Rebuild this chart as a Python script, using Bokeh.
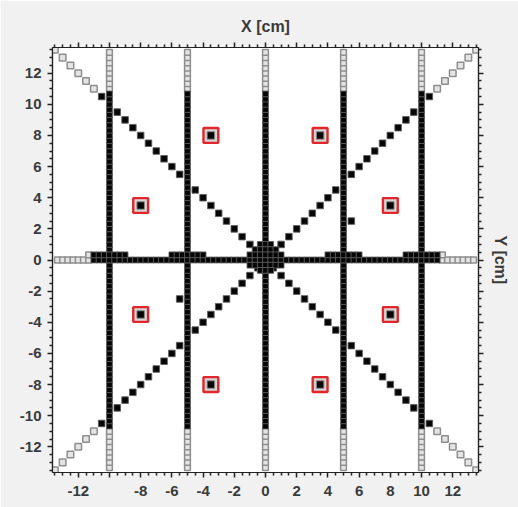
import numpy as np
from bokeh.plotting import figure
from bokeh.models import FixedTicker, LinearAxis, ColumnDataSource
from bokeh.embed import file_html
from bokeh.resources import INLINE

# ---------------- data (cm) ----------------
cell_pitch = 1.0 / 3.0          # detector cell pitch in cm

tick_values = [-12, -10, -8, -6, -4, -2, 0, 2, 4, 6, 8, 10, 12]
left_tick_labels = ["-12", "-10", "-8", "-6", "-4", "-2", "0", "2", "4", "6", "8", "10", "12"]
bottom_tick_labels = ["-12", "", "-8", "-6", "-4", "-2", "0", "2", "4", "6", "8", "10", "12"]
minor_tick_values = [-13.5, -13, -12.5, -11.5, -11, -10.5, -9.5, -9, -8.5, -7.5, -7, -6.5,
                     -5.5, -5, -4.5, -3.5, -3, -2.5, -1.5, -1, -0.5, 0.5, 1, 1.5, 2.5, 3,
                     3.5, 4.5, 5, 5.5, 6.5, 7, 7.5, 8.5, 9, 9.5, 10.5, 11, 11.5, 12.5, 13, 13.5]

# grid segments of cells (indices in cell pitch units)
vertical_line_k = [-30, -15, 0, 15, 30]
vertical_segments = [(-40, -33, "gray"), (-32, 32, "black"), (33, 40, "gray")]
horizontal_segments = [
    (0, -40, -34, "gray"), (0, -33, 33, "black"), (0, 34, 40, "gray"),
    (1, -34, -34, "gray"), (1, -33, -27, "black"), (1, -18, -12, "black"),
    (1, 12, 18, "black"), (1, 27, 33, "black"), (1, 34, 34, "gray"),
    (3, -1, 1, "black"), (2, -2, 2, "black"), (1, -3, 3, "black"),
    (-1, -3, 3, "black"), (-2, -1, 1, "black"),
]

# diagonal cells (distance d along both axes, y = +-x)
diag_black_d = [0.5, 1.0, 1.5, 2.0, 2.5, 3.0, 3.5, 4.0, 4.5, 5.5, 6.0, 6.5, 7.0,
                7.5, 8.0, 8.5, 9.0, 9.5, 10.5]
diag_gray_d = [11.0, 11.5, 12.0, 12.5, 13.0, 13.5]

# isolated cells
stray_x = [-5.5, 5.5]
stray_y = [-2.5, 2.5]

# red marked positions
red_x = [-3.5, 3.5, -8.0, 8.0, -8.0, 8.0, -3.5, 3.5]
red_y = [8.0, 8.0, 3.5, 3.5, -3.5, -3.5, -8.0, -8.0]

# ---------------- build cell tables ----------------
grid = {"black": ([], []), "gray": ([], [])}
diag = {"black": ([], []), "gray": ([], [])}
for kx in vertical_line_k:
    for k0, k1, st in vertical_segments:
        for ky in range(k0, k1 + 1):
            grid[st][0].append(kx * cell_pitch)
            grid[st][1].append(ky * cell_pitch)
for ky, k0, k1, st in horizontal_segments:
    for kx in range(k0, k1 + 1):
        grid[st][0].append(kx * cell_pitch)
        grid[st][1].append(ky * cell_pitch)
for st, dl in (("black", diag_black_d), ("gray", diag_gray_d)):
    for d in dl:
        for sx, sy in ((1, 1), (1, -1), (-1, 1), (-1, -1)):
            diag[st][0].append(sx * d)
            diag[st][1].append(sy * d)
diag["black"][0].extend(stray_x)
diag["black"][1].extend(stray_y)

# ---------------- figure ----------------
FONT = "Liberation Sans"
p = figure(width=518, height=507, x_range=(-13.65, 13.65), y_range=(-13.65, 13.65),
           output_backend="svg", toolbar_location=None,
           min_border_left=52, min_border_right=40, min_border_top=47, min_border_bottom=35)
p.background_fill_color = "white"
p.border_fill_color = "#f1f1f1"
p.outline_line_color = "#222222"
p.outline_line_width = 1.2
p.xgrid.visible = False
p.ygrid.visible = False

bottom_axis = p.below[0]
left_axis = p.left[0]

for src, size in ((diag, 0.42), (grid, 0.37)):
    p.rect(src["gray"][0], src["gray"][1], width=size, height=size,
           fill_color="#e4e4e4", line_color="#8e8e8e", line_width=1.5)
for src, size in ((diag, 0.42), (grid, 0.37)):
    p.rect(src["black"][0], src["black"][1], width=size, height=size,
           fill_color="#050505", line_color="#5e5e5e", line_width=0.9)

red_src = ColumnDataSource(dict(x=red_x, y=red_y))
p.rect("x", "y", width=0.95, height=0.95, source=red_src,
       fill_color="#d6d6d6", line_color="#e3262c", line_width=2.4)
p.rect("x", "y", width=0.48, height=0.48, source=red_src,
       fill_color="#050505", line_color="#8a8a8a", line_width=1.0)

top_axis = LinearAxis(axis_label="X [cm]")
right_axis = LinearAxis(axis_label="Y [cm]")
p.add_layout(top_axis, "above")
p.add_layout(right_axis, "right")

for ax in [bottom_axis, left_axis, top_axis, right_axis]:
    ax.ticker = FixedTicker(ticks=tick_values, minor_ticks=minor_tick_values)
    ax.axis_line_color = "#222222"
    ax.axis_line_width = 1.2
    ax.major_tick_line_color = "#222222"
    ax.minor_tick_line_color = "#222222"
    ax.major_tick_line_width = 1.5
    ax.minor_tick_line_width = 1.5
    ax.major_tick_in = 0
    ax.minor_tick_in = 0
    ax.major_tick_out = 5
    ax.minor_tick_out = 3
    ax.major_label_text_font = FONT
    ax.major_label_text_font_style = "bold"
    ax.major_label_text_font_size = "15px"
    ax.major_label_text_color = "#3a3a3a"
    ax.axis_label_text_font = FONT
    ax.axis_label_text_font_style = "bold"
    ax.axis_label_text_font_size = "16px"
    ax.axis_label_text_color = "#3a3a3a"

left_axis.major_label_overrides = {t: s for t, s in zip(tick_values, left_tick_labels)}
left_axis.major_label_standoff = 6
bottom_axis.major_label_overrides = {t: s for t, s in zip(tick_values, bottom_tick_labels)}
bottom_axis.major_label_standoff = 8

for ax in [top_axis, right_axis]:
    ax.major_label_overrides = {t: "" for t in tick_values}
    ax.major_label_text_font_size = "0px"
    ax.major_label_standoff = 0
    ax.axis_label_standoff = 8

open("out.html", "w").write(file_html(p, INLINE))
